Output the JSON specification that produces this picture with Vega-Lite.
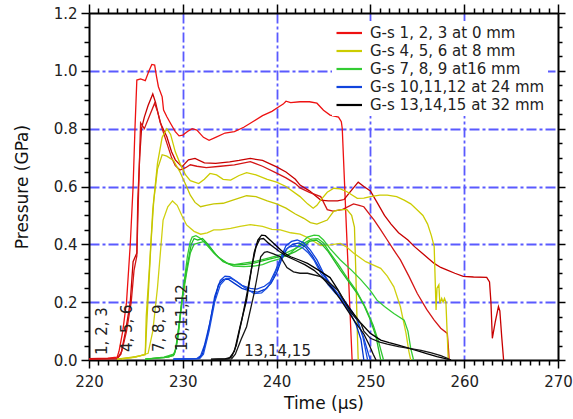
{
  "$schema": "https://vega.github.io/schema/vega-lite/v6.json",
  "width": 469,
  "height": 347,
  "autosize": {"type": "none"},
  "padding": {"left": 89, "top": 13, "right": 15, "bottom": 59},
  "background": "white",
  "config": {"font": "DejaVu Sans", "view": {"stroke": null}},
  "datasets": {
    "curves": [
      {"s":"G-s 1, 2, 3 at 0 mm","t":220,"p":0.005},{"s":"G-s 1, 2, 3 at 0 mm","t":222,"p":0.006},{"s":"G-s 1, 2, 3 at 0 mm","t":223,"p":0.01},{"s":"G-s 1, 2, 3 at 0 mm","t":223.2,"p":0.03},{"s":"G-s 1, 2, 3 at 0 mm","t":223.6,"p":0.1},{"s":"G-s 1, 2, 3 at 0 mm","t":224.0,"p":0.2},{"s":"G-s 1, 2, 3 at 0 mm","t":224.4,"p":0.4},{"s":"G-s 1, 2, 3 at 0 mm","t":224.7,"p":0.6},{"s":"G-s 1, 2, 3 at 0 mm","t":224.9,"p":0.8},{"s":"G-s 1, 2, 3 at 0 mm","t":225.1,"p":0.968},{"s":"G-s 1, 2, 3 at 0 mm","t":225.5,"p":0.972},{"s":"G-s 1, 2, 3 at 0 mm","t":226.0,"p":0.966},{"s":"G-s 1, 2, 3 at 0 mm","t":226.4,"p":1.0},{"s":"G-s 1, 2, 3 at 0 mm","t":226.7,"p":1.022},{"s":"G-s 1, 2, 3 at 0 mm","t":227.0,"p":1.02},{"s":"G-s 1, 2, 3 at 0 mm","t":227.2,"p":0.98},{"s":"G-s 1, 2, 3 at 0 mm","t":227.4,"p":0.945},{"s":"G-s 1, 2, 3 at 0 mm","t":227.8,"p":0.91},{"s":"G-s 1, 2, 3 at 0 mm","t":227.95,"p":0.864},{"s":"G-s 1, 2, 3 at 0 mm","t":228.3,"p":0.841},{"s":"G-s 1, 2, 3 at 0 mm","t":228.7,"p":0.818},{"s":"G-s 1, 2, 3 at 0 mm","t":229.2,"p":0.79},{"s":"G-s 1, 2, 3 at 0 mm","t":229.6,"p":0.775},{"s":"G-s 1, 2, 3 at 0 mm","t":230.0,"p":0.778},{"s":"G-s 1, 2, 3 at 0 mm","t":230.5,"p":0.79},{"s":"G-s 1, 2, 3 at 0 mm","t":231.0,"p":0.8},{"s":"G-s 1, 2, 3 at 0 mm","t":231.5,"p":0.795},{"s":"G-s 1, 2, 3 at 0 mm","t":232.2,"p":0.77},{"s":"G-s 1, 2, 3 at 0 mm","t":232.8,"p":0.76},{"s":"G-s 1, 2, 3 at 0 mm","t":233.5,"p":0.77},{"s":"G-s 1, 2, 3 at 0 mm","t":234.5,"p":0.785},{"s":"G-s 1, 2, 3 at 0 mm","t":235.5,"p":0.79},{"s":"G-s 1, 2, 3 at 0 mm","t":236.5,"p":0.805},{"s":"G-s 1, 2, 3 at 0 mm","t":237.5,"p":0.825},{"s":"G-s 1, 2, 3 at 0 mm","t":238.5,"p":0.845},{"s":"G-s 1, 2, 3 at 0 mm","t":239.5,"p":0.86},{"s":"G-s 1, 2, 3 at 0 mm","t":240.2,"p":0.875},{"s":"G-s 1, 2, 3 at 0 mm","t":240.7,"p":0.885},{"s":"G-s 1, 2, 3 at 0 mm","t":241.0,"p":0.895},{"s":"G-s 1, 2, 3 at 0 mm","t":241.5,"p":0.89},{"s":"G-s 1, 2, 3 at 0 mm","t":242.5,"p":0.893},{"s":"G-s 1, 2, 3 at 0 mm","t":243.5,"p":0.893},{"s":"G-s 1, 2, 3 at 0 mm","t":244.3,"p":0.888},{"s":"G-s 1, 2, 3 at 0 mm","t":245.0,"p":0.864},{"s":"G-s 1, 2, 3 at 0 mm","t":245.7,"p":0.847},{"s":"G-s 1, 2, 3 at 0 mm","t":246.6,"p":0.84},{"s":"G-s 1, 2, 3 at 0 mm","t":246.9,"p":0.824},{"s":"G-s 1, 2, 3 at 0 mm","t":247.0,"p":0.8},{"s":"G-s 1, 2, 3 at 0 mm","t":247.45,"p":0.45},{"s":"G-s 1, 2, 3 at 0 mm","t":248.05,"p":0},

      {"s":"r2","t":220,"p":0.003},{"s":"r2","t":223,"p":0.005},{"s":"r2","t":223.4,"p":0.02},{"s":"r2","t":223.9,"p":0.1},{"s":"r2","t":224.4,"p":0.2},{"s":"r2","t":224.7,"p":0.34},{"s":"r2","t":225.1,"p":0.37},{"s":"r2","t":225.2,"p":0.55},{"s":"r2","t":225.4,"p":0.7},{"s":"r2","t":225.6,"p":0.8},{"s":"r2","t":225.9,"p":0.84},{"s":"r2","t":226.3,"p":0.88},{"s":"r2","t":226.8,"p":0.92},{"s":"r2","t":227.1,"p":0.89},{"s":"r2","t":227.6,"p":0.82},{"s":"r2","t":228.3,"p":0.772},{"s":"r2","t":228.8,"p":0.72},{"s":"r2","t":229.2,"p":0.692},{"s":"r2","t":229.9,"p":0.668},{"s":"r2","t":230.6,"p":0.692},{"s":"r2","t":231.3,"p":0.697},{"s":"r2","t":232.3,"p":0.682},{"s":"r2","t":233.5,"p":0.68},{"s":"r2","t":235,"p":0.685},{"s":"r2","t":236,"p":0.69},{"s":"r2","t":237.2,"p":0.697},{"s":"r2","t":238.5,"p":0.69},{"s":"r2","t":240,"p":0.668},{"s":"r2","t":241,"p":0.65},{"s":"r2","t":242,"p":0.625},{"s":"r2","t":242.5,"p":0.605},{"s":"r2","t":243.5,"p":0.585},{"s":"r2","t":244.7,"p":0.553},{"s":"r2","t":245.5,"p":0.55},{"s":"r2","t":246.5,"p":0.55},{"s":"r2","t":247.2,"p":0.555},{"s":"r2","t":247.8,"p":0.58},{"s":"r2","t":248.7,"p":0.615},{"s":"r2","t":249.3,"p":0.6},{"s":"r2","t":250,"p":0.585},{"s":"r2","t":250.8,"p":0.54},{"s":"r2","t":251.5,"p":0.5},{"s":"r2","t":252.2,"p":0.47},{"s":"r2","t":253,"p":0.44},{"s":"r2","t":254,"p":0.415},{"s":"r2","t":254.7,"p":0.392},{"s":"r2","t":255.5,"p":0.37},{"s":"r2","t":256.8,"p":0.334},{"s":"r2","t":257.5,"p":0.32},{"s":"r2","t":258.2,"p":0.311},{"s":"r2","t":259,"p":0.3},{"s":"r2","t":259.9,"p":0.289},{"s":"r2","t":261,"p":0.287},{"s":"r2","t":262.4,"p":0.286},{"s":"r2","t":262.7,"p":0.27},{"s":"r2","t":262.85,"p":0.2},{"s":"r2","t":263.0,"p":0.075},{"s":"r2","t":263.3,"p":0.13},{"s":"r2","t":263.65,"p":0.185},{"s":"r2","t":263.8,"p":0.17},{"s":"r2","t":264.0,"p":0.08},{"s":"r2","t":264.2,"p":0},

      {"s":"r3","t":220,"p":0.003},{"s":"r3","t":223,"p":0.005},{"s":"r3","t":223.5,"p":0.03},{"s":"r3","t":224.0,"p":0.1},{"s":"r3","t":224.5,"p":0.2},{"s":"r3","t":224.8,"p":0.31},{"s":"r3","t":225.1,"p":0.36},{"s":"r3","t":225.3,"p":0.6},{"s":"r3","t":225.5,"p":0.82},{"s":"r3","t":225.9,"p":0.8},{"s":"r3","t":226.4,"p":0.84},{"s":"r3","t":227.0,"p":0.888},{"s":"r3","t":227.3,"p":0.86},{"s":"r3","t":227.8,"p":0.8},{"s":"r3","t":228.3,"p":0.75},{"s":"r3","t":228.8,"p":0.7},{"s":"r3","t":229.2,"p":0.672},{"s":"r3","t":229.7,"p":0.657},{"s":"r3","t":230.3,"p":0.665},{"s":"r3","t":230.8,"p":0.675},{"s":"r3","t":231.5,"p":0.67},{"s":"r3","t":232.5,"p":0.665},{"s":"r3","t":234,"p":0.67},{"s":"r3","t":235.5,"p":0.675},{"s":"r3","t":237.2,"p":0.686},{"s":"r3","t":238.5,"p":0.67},{"s":"r3","t":240,"p":0.646},{"s":"r3","t":241,"p":0.63},{"s":"r3","t":242,"p":0.61},{"s":"r3","t":242.5,"p":0.595},{"s":"r3","t":243.5,"p":0.58},{"s":"r3","t":244.7,"p":0.565},{"s":"r3","t":245.4,"p":0.52},{"s":"r3","t":246.0,"p":0.515},{"s":"r3","t":247.0,"p":0.52},{"s":"r3","t":248.2,"p":0.54},{"s":"r3","t":248.8,"p":0.535},{"s":"r3","t":249.3,"p":0.53},{"s":"r3","t":250.0,"p":0.5},{"s":"r3","t":250.4,"p":0.484},{"s":"r3","t":251.1,"p":0.45},{"s":"r3","t":251.8,"p":0.415},{"s":"r3","t":252.5,"p":0.38},{"s":"r3","t":253.2,"p":0.346},{"s":"r3","t":254.1,"p":0.29},{"s":"r3","t":255.0,"p":0.23},{"s":"r3","t":256.0,"p":0.175},{"s":"r3","t":256.8,"p":0.138},{"s":"r3","t":257.5,"p":0.11},{"s":"r3","t":258.2,"p":0.092},{"s":"r3","t":258.3,"p":0.05},{"s":"r3","t":258.4,"p":0},

      {"s":"G-s 4, 5, 6 at 8 mm","t":223,"p":0.003},{"s":"G-s 4, 5, 6 at 8 mm","t":224.5,"p":0.008},{"s":"G-s 4, 5, 6 at 8 mm","t":225.5,"p":0.015},{"s":"G-s 4, 5, 6 at 8 mm","t":226.0,"p":0.02},{"s":"G-s 4, 5, 6 at 8 mm","t":226.1,"p":0.15},{"s":"G-s 4, 5, 6 at 8 mm","t":226.5,"p":0.35},{"s":"G-s 4, 5, 6 at 8 mm","t":226.8,"p":0.52},{"s":"G-s 4, 5, 6 at 8 mm","t":227.3,"p":0.68},{"s":"G-s 4, 5, 6 at 8 mm","t":227.8,"p":0.77},{"s":"G-s 4, 5, 6 at 8 mm","t":228.3,"p":0.8},{"s":"G-s 4, 5, 6 at 8 mm","t":228.7,"p":0.78},{"s":"G-s 4, 5, 6 at 8 mm","t":229.2,"p":0.72},{"s":"G-s 4, 5, 6 at 8 mm","t":229.7,"p":0.68},{"s":"G-s 4, 5, 6 at 8 mm","t":230.3,"p":0.64},{"s":"G-s 4, 5, 6 at 8 mm","t":230.8,"p":0.62},{"s":"G-s 4, 5, 6 at 8 mm","t":231.7,"p":0.61},{"s":"G-s 4, 5, 6 at 8 mm","t":232.3,"p":0.625},{"s":"G-s 4, 5, 6 at 8 mm","t":232.9,"p":0.645},{"s":"G-s 4, 5, 6 at 8 mm","t":233.6,"p":0.64},{"s":"G-s 4, 5, 6 at 8 mm","t":234.3,"p":0.625},{"s":"G-s 4, 5, 6 at 8 mm","t":235.1,"p":0.622},{"s":"G-s 4, 5, 6 at 8 mm","t":236,"p":0.638},{"s":"G-s 4, 5, 6 at 8 mm","t":236.8,"p":0.648},{"s":"G-s 4, 5, 6 at 8 mm","t":237.8,"p":0.64},{"s":"G-s 4, 5, 6 at 8 mm","t":239,"p":0.625},{"s":"G-s 4, 5, 6 at 8 mm","t":240,"p":0.615},{"s":"G-s 4, 5, 6 at 8 mm","t":241,"p":0.6},{"s":"G-s 4, 5, 6 at 8 mm","t":242.5,"p":0.565},{"s":"G-s 4, 5, 6 at 8 mm","t":243.3,"p":0.54},{"s":"G-s 4, 5, 6 at 8 mm","t":243.9,"p":0.525},{"s":"G-s 4, 5, 6 at 8 mm","t":244.3,"p":0.535},{"s":"G-s 4, 5, 6 at 8 mm","t":244.7,"p":0.553},{"s":"G-s 4, 5, 6 at 8 mm","t":245.4,"p":0.58},{"s":"G-s 4, 5, 6 at 8 mm","t":246.1,"p":0.594},{"s":"G-s 4, 5, 6 at 8 mm","t":246.8,"p":0.592},{"s":"G-s 4, 5, 6 at 8 mm","t":247.5,"p":0.582},{"s":"G-s 4, 5, 6 at 8 mm","t":248.6,"p":0.559},{"s":"G-s 4, 5, 6 at 8 mm","t":249.3,"p":0.56},{"s":"G-s 4, 5, 6 at 8 mm","t":250,"p":0.565},{"s":"G-s 4, 5, 6 at 8 mm","t":251,"p":0.57},{"s":"G-s 4, 5, 6 at 8 mm","t":251.8,"p":0.57},{"s":"G-s 4, 5, 6 at 8 mm","t":252.8,"p":0.565},{"s":"G-s 4, 5, 6 at 8 mm","t":253.6,"p":0.553},{"s":"G-s 4, 5, 6 at 8 mm","t":254.3,"p":0.54},{"s":"G-s 4, 5, 6 at 8 mm","t":255,"p":0.519},{"s":"G-s 4, 5, 6 at 8 mm","t":255.6,"p":0.5},{"s":"G-s 4, 5, 6 at 8 mm","t":256.1,"p":0.47},{"s":"G-s 4, 5, 6 at 8 mm","t":256.5,"p":0.43},{"s":"G-s 4, 5, 6 at 8 mm","t":256.8,"p":0.392},{"s":"G-s 4, 5, 6 at 8 mm","t":257.0,"p":0.173},{"s":"G-s 4, 5, 6 at 8 mm","t":257.1,"p":0.248},{"s":"G-s 4, 5, 6 at 8 mm","t":257.3,"p":0.26},{"s":"G-s 4, 5, 6 at 8 mm","t":257.4,"p":0.196},{"s":"G-s 4, 5, 6 at 8 mm","t":257.6,"p":0.213},{"s":"G-s 4, 5, 6 at 8 mm","t":257.75,"p":0.2},{"s":"G-s 4, 5, 6 at 8 mm","t":257.9,"p":0.213},{"s":"G-s 4, 5, 6 at 8 mm","t":258.05,"p":0.2},{"s":"G-s 4, 5, 6 at 8 mm","t":258.3,"p":0},

      {"s":"y2","t":223,"p":0.003},{"s":"y2","t":225,"p":0.012},{"s":"y2","t":226.0,"p":0.018},{"s":"y2","t":226.15,"p":0.12},{"s":"y2","t":226.6,"p":0.4},{"s":"y2","t":226.9,"p":0.55},{"s":"y2","t":227.3,"p":0.66},{"s":"y2","t":227.8,"p":0.71},{"s":"y2","t":228.3,"p":0.705},{"s":"y2","t":229.0,"p":0.69},{"s":"y2","t":229.7,"p":0.65},{"s":"y2","t":230.4,"p":0.6},{"s":"y2","t":230.8,"p":0.57},{"s":"y2","t":231.3,"p":0.545},{"s":"y2","t":231.9,"p":0.53},{"s":"y2","t":232.5,"p":0.535},{"s":"y2","t":233.3,"p":0.54},{"s":"y2","t":234.3,"p":0.542},{"s":"y2","t":235.5,"p":0.555},{"s":"y2","t":236.8,"p":0.568},{"s":"y2","t":237.8,"p":0.565},{"s":"y2","t":239,"p":0.55},{"s":"y2","t":240,"p":0.54},{"s":"y2","t":241,"p":0.525},{"s":"y2","t":242,"p":0.505},{"s":"y2","t":242.9,"p":0.49},{"s":"y2","t":243.6,"p":0.475},{"s":"y2","t":244.3,"p":0.47},{"s":"y2","t":245.4,"p":0.484},{"s":"y2","t":246.1,"p":0.515},{"s":"y2","t":246.8,"p":0.52},{"s":"y2","t":247.5,"p":0.52},{"s":"y2","t":248.0,"p":0.5},{"s":"y2","t":248.3,"p":0.46},{"s":"y2","t":248.45,"p":0.3},{"s":"y2","t":248.6,"p":0.1},{"s":"y2","t":248.7,"p":0},

      {"s":"y3","t":223.5,"p":0.003},{"s":"y3","t":225,"p":0.01},{"s":"y3","t":226.3,"p":0.023},{"s":"y3","t":226.8,"p":0.1},{"s":"y3","t":227.3,"p":0.25},{"s":"y3","t":227.9,"p":0.484},{"s":"y3","t":228.4,"p":0.53},{"s":"y3","t":228.9,"p":0.55},{"s":"y3","t":229.4,"p":0.535},{"s":"y3","t":229.9,"p":0.5},{"s":"y3","t":230.4,"p":0.467},{"s":"y3","t":231.2,"p":0.445},{"s":"y3","t":231.9,"p":0.435},{"s":"y3","t":232.6,"p":0.44},{"s":"y3","t":233.3,"p":0.45},{"s":"y3","t":234,"p":0.45},{"s":"y3","t":235.1,"p":0.455},{"s":"y3","t":236.1,"p":0.462},{"s":"y3","t":237.2,"p":0.468},{"s":"y3","t":238.5,"p":0.462},{"s":"y3","t":239.5,"p":0.452},{"s":"y3","t":240.4,"p":0.45},{"s":"y3","t":241.5,"p":0.44},{"s":"y3","t":242.5,"p":0.435},{"s":"y3","t":243.2,"p":0.425},{"s":"y3","t":244,"p":0.41},{"s":"y3","t":244.7,"p":0.396},{"s":"y3","t":245.7,"p":0.398},{"s":"y3","t":246.8,"p":0.403},{"s":"y3","t":247.5,"p":0.39},{"s":"y3","t":248.2,"p":0.37},{"s":"y3","t":249.5,"p":0.34},{"s":"y3","t":251.1,"p":0.317},{"s":"y3","t":251.8,"p":0.29},{"s":"y3","t":252.5,"p":0.253},{"s":"y3","t":253.2,"p":0.184},{"s":"y3","t":253.8,"p":0.092},{"s":"y3","t":254.1,"p":0.03},{"s":"y3","t":254.3,"p":0},

      {"s":"G-s 7, 8, 9 at16 mm","t":226,"p":0.003},{"s":"G-s 7, 8, 9 at16 mm","t":228,"p":0.01},{"s":"G-s 7, 8, 9 at16 mm","t":229.0,"p":0.02},{"s":"G-s 7, 8, 9 at16 mm","t":229.3,"p":0.04},{"s":"G-s 7, 8, 9 at16 mm","t":229.7,"p":0.15},{"s":"G-s 7, 8, 9 at16 mm","t":230.1,"p":0.26},{"s":"G-s 7, 8, 9 at16 mm","t":230.5,"p":0.36},{"s":"G-s 7, 8, 9 at16 mm","t":230.8,"p":0.41},{"s":"G-s 7, 8, 9 at16 mm","t":231.0,"p":0.425},{"s":"G-s 7, 8, 9 at16 mm","t":231.4,"p":0.43},{"s":"G-s 7, 8, 9 at16 mm","t":231.9,"p":0.42},{"s":"G-s 7, 8, 9 at16 mm","t":232.5,"p":0.4},{"s":"G-s 7, 8, 9 at16 mm","t":233.3,"p":0.37},{"s":"G-s 7, 8, 9 at16 mm","t":234.0,"p":0.35},{"s":"G-s 7, 8, 9 at16 mm","t":234.7,"p":0.335},{"s":"G-s 7, 8, 9 at16 mm","t":235.4,"p":0.325},{"s":"G-s 7, 8, 9 at16 mm","t":236.5,"p":0.323},{"s":"G-s 7, 8, 9 at16 mm","t":237.6,"p":0.325},{"s":"G-s 7, 8, 9 at16 mm","t":238.5,"p":0.33},{"s":"G-s 7, 8, 9 at16 mm","t":239.3,"p":0.34},{"s":"G-s 7, 8, 9 at16 mm","t":240.3,"p":0.35},{"s":"G-s 7, 8, 9 at16 mm","t":241.5,"p":0.37},{"s":"G-s 7, 8, 9 at16 mm","t":242.5,"p":0.4},{"s":"G-s 7, 8, 9 at16 mm","t":243.3,"p":0.425},{"s":"G-s 7, 8, 9 at16 mm","t":244.0,"p":0.432},{"s":"G-s 7, 8, 9 at16 mm","t":244.5,"p":0.43},{"s":"G-s 7, 8, 9 at16 mm","t":245.0,"p":0.415},{"s":"G-s 7, 8, 9 at16 mm","t":245.7,"p":0.385},{"s":"G-s 7, 8, 9 at16 mm","t":246.8,"p":0.346},{"s":"G-s 7, 8, 9 at16 mm","t":248,"p":0.31},{"s":"G-s 7, 8, 9 at16 mm","t":249,"p":0.277},{"s":"G-s 7, 8, 9 at16 mm","t":250,"p":0.24},{"s":"G-s 7, 8, 9 at16 mm","t":250.7,"p":0.207},{"s":"G-s 7, 8, 9 at16 mm","t":251.5,"p":0.185},{"s":"G-s 7, 8, 9 at16 mm","t":252.5,"p":0.161},{"s":"G-s 7, 8, 9 at16 mm","t":253.6,"p":0.138},{"s":"G-s 7, 8, 9 at16 mm","t":254.0,"p":0.1},{"s":"G-s 7, 8, 9 at16 mm","t":254.3,"p":0.04},{"s":"G-s 7, 8, 9 at16 mm","t":254.6,"p":0},

      {"s":"g2","t":226,"p":0.003},{"s":"g2","t":228,"p":0.008},{"s":"g2","t":229.0,"p":0.015},{"s":"g2","t":229.2,"p":0.03},{"s":"g2","t":229.6,"p":0.12},{"s":"g2","t":230.0,"p":0.23},{"s":"g2","t":230.5,"p":0.33},{"s":"g2","t":230.9,"p":0.4},{"s":"g2","t":231.2,"p":0.42},{"s":"g2","t":231.6,"p":0.415},{"s":"g2","t":232.1,"p":0.42},{"s":"g2","t":232.7,"p":0.4},{"s":"g2","t":233.5,"p":0.365},{"s":"g2","t":234.3,"p":0.34},{"s":"g2","t":235.1,"p":0.33},{"s":"g2","t":236.5,"p":0.33},{"s":"g2","t":237.6,"p":0.335},{"s":"g2","t":238.8,"p":0.345},{"s":"g2","t":240,"p":0.355},{"s":"g2","t":241,"p":0.36},{"s":"g2","t":242,"p":0.375},{"s":"g2","t":242.8,"p":0.39},{"s":"g2","t":243.5,"p":0.41},{"s":"g2","t":244.2,"p":0.415},{"s":"g2","t":244.7,"p":0.405},{"s":"g2","t":245.5,"p":0.375},{"s":"g2","t":246.8,"p":0.311},{"s":"g2","t":247.7,"p":0.27},{"s":"g2","t":248.6,"p":0.23},{"s":"g2","t":249.3,"p":0.19},{"s":"g2","t":250,"p":0.138},{"s":"g2","t":250.6,"p":0.081},{"s":"g2","t":251.1,"p":0},

      {"s":"g3","t":226,"p":0.003},{"s":"g3","t":228.5,"p":0.01},{"s":"g3","t":229.1,"p":0.02},{"s":"g3","t":229.5,"p":0.08},{"s":"g3","t":229.9,"p":0.2},{"s":"g3","t":230.4,"p":0.3},{"s":"g3","t":230.8,"p":0.37},{"s":"g3","t":231.2,"p":0.4},{"s":"g3","t":231.7,"p":0.405},{"s":"g3","t":232.3,"p":0.41},{"s":"g3","t":233,"p":0.385},{"s":"g3","t":233.8,"p":0.355},{"s":"g3","t":234.7,"p":0.335},{"s":"g3","t":235.5,"p":0.33},{"s":"g3","t":236.5,"p":0.335},{"s":"g3","t":237.6,"p":0.34},{"s":"g3","t":238.8,"p":0.35},{"s":"g3","t":240,"p":0.36},{"s":"g3","t":241,"p":0.37},{"s":"g3","t":242,"p":0.385},{"s":"g3","t":243,"p":0.405},{"s":"g3","t":243.7,"p":0.418},{"s":"g3","t":244.4,"p":0.42},{"s":"g3","t":245,"p":0.405},{"s":"g3","t":245.7,"p":0.37},{"s":"g3","t":246.6,"p":0.33},{"s":"g3","t":247.5,"p":0.285},{"s":"g3","t":248.5,"p":0.24},{"s":"g3","t":249.5,"p":0.18},{"s":"g3","t":250.3,"p":0.12},{"s":"g3","t":250.9,"p":0.06},{"s":"g3","t":251.4,"p":0},

      {"s":"G-s 10,11,12 at 24 mm","t":229,"p":0.003},{"s":"G-s 10,11,12 at 24 mm","t":231.5,"p":0.005},{"s":"G-s 10,11,12 at 24 mm","t":231.9,"p":0.015},{"s":"G-s 10,11,12 at 24 mm","t":232.3,"p":0.05},{"s":"G-s 10,11,12 at 24 mm","t":232.9,"p":0.13},{"s":"G-s 10,11,12 at 24 mm","t":233.4,"p":0.22},{"s":"G-s 10,11,12 at 24 mm","t":234.0,"p":0.275},{"s":"G-s 10,11,12 at 24 mm","t":234.5,"p":0.29},{"s":"G-s 10,11,12 at 24 mm","t":235.0,"p":0.288},{"s":"G-s 10,11,12 at 24 mm","t":235.6,"p":0.275},{"s":"G-s 10,11,12 at 24 mm","t":236.3,"p":0.258},{"s":"G-s 10,11,12 at 24 mm","t":237.2,"p":0.248},{"s":"G-s 10,11,12 at 24 mm","t":237.9,"p":0.245},{"s":"G-s 10,11,12 at 24 mm","t":238.7,"p":0.255},{"s":"G-s 10,11,12 at 24 mm","t":239.3,"p":0.27},{"s":"G-s 10,11,12 at 24 mm","t":239.9,"p":0.31},{"s":"G-s 10,11,12 at 24 mm","t":240.4,"p":0.35},{"s":"G-s 10,11,12 at 24 mm","t":241.0,"p":0.395},{"s":"G-s 10,11,12 at 24 mm","t":241.6,"p":0.41},{"s":"G-s 10,11,12 at 24 mm","t":242.2,"p":0.415},{"s":"G-s 10,11,12 at 24 mm","t":242.9,"p":0.405},{"s":"G-s 10,11,12 at 24 mm","t":243.6,"p":0.38},{"s":"G-s 10,11,12 at 24 mm","t":244.3,"p":0.346},{"s":"G-s 10,11,12 at 24 mm","t":245.0,"p":0.3},{"s":"G-s 10,11,12 at 24 mm","t":245.7,"p":0.265},{"s":"G-s 10,11,12 at 24 mm","t":246.5,"p":0.23},{"s":"G-s 10,11,12 at 24 mm","t":247.2,"p":0.207},{"s":"G-s 10,11,12 at 24 mm","t":248.0,"p":0.17},{"s":"G-s 10,11,12 at 24 mm","t":248.6,"p":0.138},{"s":"G-s 10,11,12 at 24 mm","t":249.3,"p":0.075},{"s":"G-s 10,11,12 at 24 mm","t":249.8,"p":0.02},{"s":"G-s 10,11,12 at 24 mm","t":250.0,"p":0},

      {"s":"b2","t":229,"p":0.003},{"s":"b2","t":231.7,"p":0.005},{"s":"b2","t":232.1,"p":0.02},{"s":"b2","t":232.6,"p":0.08},{"s":"b2","t":233.2,"p":0.18},{"s":"b2","t":233.8,"p":0.26},{"s":"b2","t":234.3,"p":0.278},{"s":"b2","t":234.8,"p":0.28},{"s":"b2","t":235.5,"p":0.265},{"s":"b2","t":236.3,"p":0.248},{"s":"b2","t":237.2,"p":0.238},{"s":"b2","t":238,"p":0.235},{"s":"b2","t":238.8,"p":0.245},{"s":"b2","t":239.4,"p":0.265},{"s":"b2","t":240,"p":0.3},{"s":"b2","t":240.5,"p":0.345},{"s":"b2","t":241.1,"p":0.385},{"s":"b2","t":241.7,"p":0.4},{"s":"b2","t":242.4,"p":0.405},{"s":"b2","t":243.1,"p":0.39},{"s":"b2","t":243.8,"p":0.36},{"s":"b2","t":244.7,"p":0.31},{"s":"b2","t":245.7,"p":0.26},{"s":"b2","t":246.5,"p":0.225},{"s":"b2","t":247.2,"p":0.195},{"s":"b2","t":247.9,"p":0.16},{"s":"b2","t":248.5,"p":0.12},{"s":"b2","t":249.0,"p":0.07},{"s":"b2","t":249.3,"p":0},

      {"s":"b3","t":229,"p":0.003},{"s":"b3","t":231.8,"p":0.005},{"s":"b3","t":232.2,"p":0.02},{"s":"b3","t":232.8,"p":0.1},{"s":"b3","t":233.4,"p":0.2},{"s":"b3","t":234.0,"p":0.26},{"s":"b3","t":234.6,"p":0.282},{"s":"b3","t":235.1,"p":0.283},{"s":"b3","t":235.8,"p":0.27},{"s":"b3","t":236.5,"p":0.253},{"s":"b3","t":237.6,"p":0.23},{"s":"b3","t":238.4,"p":0.232},{"s":"b3","t":239,"p":0.25},{"s":"b3","t":239.6,"p":0.28},{"s":"b3","t":240.2,"p":0.33},{"s":"b3","t":240.8,"p":0.375},{"s":"b3","t":241.3,"p":0.39},{"s":"b3","t":242.0,"p":0.395},{"s":"b3","t":242.7,"p":0.39},{"s":"b3","t":243.4,"p":0.37},{"s":"b3","t":244.0,"p":0.345},{"s":"b3","t":244.7,"p":0.3},{"s":"b3","t":245.5,"p":0.26},{"s":"b3","t":246.3,"p":0.23},{"s":"b3","t":246.8,"p":0.219},{"s":"b3","t":247.6,"p":0.18},{"s":"b3","t":248.6,"p":0.138},{"s":"b3","t":249.2,"p":0.08},{"s":"b3","t":249.7,"p":0},

      {"s":"G-s 13,14,15 at 32 mm","t":233,"p":0.002},{"s":"G-s 13,14,15 at 32 mm","t":234.5,"p":0.004},{"s":"G-s 13,14,15 at 32 mm","t":235.0,"p":0.008},{"s":"G-s 13,14,15 at 32 mm","t":235.5,"p":0.03},{"s":"G-s 13,14,15 at 32 mm","t":236.1,"p":0.115},{"s":"G-s 13,14,15 at 32 mm","t":236.8,"p":0.207},{"s":"G-s 13,14,15 at 32 mm","t":237.3,"p":0.31},{"s":"G-s 13,14,15 at 32 mm","t":237.6,"p":0.37},{"s":"G-s 13,14,15 at 32 mm","t":238.0,"p":0.415},{"s":"G-s 13,14,15 at 32 mm","t":238.4,"p":0.432},{"s":"G-s 13,14,15 at 32 mm","t":238.8,"p":0.43},{"s":"G-s 13,14,15 at 32 mm","t":239.3,"p":0.415},{"s":"G-s 13,14,15 at 32 mm","t":239.7,"p":0.403},{"s":"G-s 13,14,15 at 32 mm","t":240.3,"p":0.385},{"s":"G-s 13,14,15 at 32 mm","t":240.8,"p":0.37},{"s":"G-s 13,14,15 at 32 mm","t":241.5,"p":0.357},{"s":"G-s 13,14,15 at 32 mm","t":242.5,"p":0.345},{"s":"G-s 13,14,15 at 32 mm","t":243.3,"p":0.334},{"s":"G-s 13,14,15 at 32 mm","t":244.5,"p":0.31},{"s":"G-s 13,14,15 at 32 mm","t":245.7,"p":0.285},{"s":"G-s 13,14,15 at 32 mm","t":246.5,"p":0.245},{"s":"G-s 13,14,15 at 32 mm","t":247.3,"p":0.2},{"s":"G-s 13,14,15 at 32 mm","t":247.9,"p":0.173},{"s":"G-s 13,14,15 at 32 mm","t":249,"p":0.127},{"s":"G-s 13,14,15 at 32 mm","t":250,"p":0.092},{"s":"G-s 13,14,15 at 32 mm","t":251.1,"p":0.069},{"s":"G-s 13,14,15 at 32 mm","t":252,"p":0.06},{"s":"G-s 13,14,15 at 32 mm","t":252.9,"p":0.052},{"s":"G-s 13,14,15 at 32 mm","t":254.7,"p":0.035},{"s":"G-s 13,14,15 at 32 mm","t":256,"p":0.022},{"s":"G-s 13,14,15 at 32 mm","t":257.1,"p":0.012},{"s":"G-s 13,14,15 at 32 mm","t":258,"p":0.005},{"s":"G-s 13,14,15 at 32 mm","t":258.6,"p":0},

      {"s":"k2","t":233,"p":0.002},{"s":"k2","t":234.8,"p":0.004},{"s":"k2","t":235.2,"p":0.01},{"s":"k2","t":235.7,"p":0.05},{"s":"k2","t":236.3,"p":0.14},{"s":"k2","t":236.9,"p":0.24},{"s":"k2","t":237.4,"p":0.33},{"s":"k2","t":237.8,"p":0.39},{"s":"k2","t":238.2,"p":0.418},{"s":"k2","t":238.6,"p":0.42},{"s":"k2","t":239.1,"p":0.405},{"s":"k2","t":239.7,"p":0.39},{"s":"k2","t":240.3,"p":0.375},{"s":"k2","t":241,"p":0.36},{"s":"k2","t":242,"p":0.345},{"s":"k2","t":243,"p":0.33},{"s":"k2","t":244,"p":0.31},{"s":"k2","t":245,"p":0.28},{"s":"k2","t":246,"p":0.245},{"s":"k2","t":246.8,"p":0.21},{"s":"k2","t":247.6,"p":0.17},{"s":"k2","t":248.4,"p":0.13},{"s":"k2","t":249.3,"p":0.09},{"s":"k2","t":249.9,"p":0.05},{"s":"k2","t":250.3,"p":0.02},{"s":"k2","t":250.6,"p":0},

      {"s":"k3","t":233,"p":0.002},{"s":"k3","t":235.2,"p":0.004},{"s":"k3","t":235.6,"p":0.02},{"s":"k3","t":236.2,"p":0.07},{"s":"k3","t":236.8,"p":0.115},{"s":"k3","t":237.6,"p":0.23},{"s":"k3","t":238.0,"p":0.3},{"s":"k3","t":238.3,"p":0.357},{"s":"k3","t":238.7,"p":0.372},{"s":"k3","t":239.0,"p":0.375},{"s":"k3","t":239.6,"p":0.368},{"s":"k3","t":240.4,"p":0.357},{"s":"k3","t":241.1,"p":0.32},{"s":"k3","t":241.8,"p":0.305},{"s":"k3","t":242.5,"p":0.3},{"s":"k3","t":243.3,"p":0.3},{"s":"k3","t":244.7,"p":0.288},{"s":"k3","t":245.7,"p":0.265},{"s":"k3","t":246.5,"p":0.242},{"s":"k3","t":247.3,"p":0.2},{"s":"k3","t":247.9,"p":0.165},{"s":"k3","t":249,"p":0.125},{"s":"k3","t":249.3,"p":0.1},{"s":"k3","t":250,"p":0.075},{"s":"k3","t":251,"p":0.062},{"s":"k3","t":251.8,"p":0.055},{"s":"k3","t":253,"p":0.046},{"s":"k3","t":255.4,"p":0.033},{"s":"k3","t":256.5,"p":0.025},{"s":"k3","t":257.5,"p":0.015},{"s":"k3","t":258.2,"p":0.006},{"s":"k3","t":258.5,"p":0}
    ],
    "vlabels": [
      {"t": 221.9, "p": 0.10, "label": "1, 2, 3"},
      {"t": 224.6, "p": 0.11, "label": "4, 5, 6"},
      {"t": 227.95, "p": 0.11, "label": "7, 8, 9"},
      {"t": 230.45, "p": 0.147, "label": "10,11,12"}
    ],
    "hlabels": [
      {"t": 240.1, "p": 0.014, "label": "13,14,15"}
    ]
  },
  "layer": [
    {
      "data": {"name": "curves"},
      "mark": {"type": "line", "strokeWidth": 1.3, "clip": true},
      "encoding": {
        "x": {
          "field": "t", "type": "quantitative",
          "scale": {"domain": [220, 270], "nice": false, "zero": false},
          "axis": {
            "orient": "bottom",
            "values": [220,221,222,223,224,225,226,227,228,229,230,231,232,233,234,235,236,237,238,239,240,241,242,243,244,245,246,247,248,249,250,251,252,253,254,255,256,257,258,259,260,261,262,263,264,265,266,267,268,269,270],
            "labelExpr": "datum.value % 10 == 0 ? datum.label : ''",
            "format": "d",
            "labelOverlap": false, "labelFlush": false, "labelBound": false,
            "tickSize": {"condition": {"test": "datum.value % 10 == 0", "value": 8}, "value": 5},
            "tickColor": "black", "tickWidth": 1.5,
            "domain": true, "domainColor": "black", "domainWidth": 2,
            "grid": true, "gridColor": "#5a5aff", "gridWidth": 1.8, "gridDash": [10, 3, 3, 3],
            "gridOpacity": {"condition": {"test": "datum.value % 10 == 0 && datum.value > 220 && datum.value < 270", "value": 1}, "value": 0},
            "labelFontSize": 15, "labelColor": "#222", "labelPadding": 6,
            "title": "Time (µs)", "titleFontSize": 17, "titleFontWeight": "normal", "titleColor": "#111", "titlePadding": 6
          }
        },
        "y": {
          "field": "p", "type": "quantitative",
          "scale": {"domain": [0, 1.2], "nice": false},
          "axis": {
            "orient": "left",
            "values": [0,0.05,0.1,0.15,0.2,0.25,0.3,0.35,0.4,0.45,0.5,0.55,0.6,0.65,0.7,0.75,0.8,0.85,0.9,0.95,1,1.05,1.1,1.15,1.2],
            "labelExpr": "abs(datum.value*5 - round(datum.value*5)) < 0.001 ? format(datum.value, '.1f') : ''",
            "labelOverlap": false, "labelFlush": false, "labelBound": false,
            "tickSize": {"condition": {"test": "abs(datum.value*5 - round(datum.value*5)) < 0.001", "value": 8}, "value": 5},
            "tickColor": "black", "tickWidth": 1.5,
            "domain": true, "domainColor": "black", "domainWidth": 2,
            "grid": true, "gridColor": "#5a5aff", "gridWidth": 1.8, "gridDash": [10, 3, 3, 3],
            "gridOpacity": {"condition": {"test": "abs(datum.value*5 - round(datum.value*5)) < 0.001 && datum.value > 0.01 && datum.value < 1.19", "value": 1}, "value": 0},
            "labelFontSize": 15, "labelColor": "#222", "labelPadding": 4,
            "title": "Pressure (GPa)", "titleFontSize": 17, "titleFontWeight": "normal", "titleColor": "#111", "titlePadding": 22
          }
        },
        "color": {
          "field": "s", "type": "nominal",
          "scale": {
            "domain": ["G-s 1, 2, 3 at 0 mm","r2","r3","G-s 4, 5, 6 at 8 mm","y2","y3","G-s 7, 8, 9 at16 mm","g2","g3","G-s 10,11,12 at 24 mm","b2","b3","G-s 13,14,15 at 32 mm","k2","k3"],
            "range": ["#ee1111","#c80000","#d41515","#cccc00","#c6c600","#d0d010","#33cc33","#22bb22","#2ec42e","#1144dd","#0033cc","#1a4ee0","#000000","#0a0a0a","#151515"]
          },
          "legend": {
            "values": ["G-s 1, 2, 3 at 0 mm","G-s 4, 5, 6 at 8 mm","G-s 7, 8, 9 at16 mm","G-s 10,11,12 at 24 mm","G-s 13,14,15 at 32 mm"],
            "title": null,
            "orient": "none", "legendX": 243, "legendY": 8,
            "fillColor": "white", "padding": 3,
            "symbolType": "M-1,0H2.4", "symbolSize": 225, "symbolStrokeWidth": 2.2,
            "labelFontSize": 15, "labelColor": "#222", "labelLimit": 300, "labelOffset": 17,
            "rowPadding": 1
          }
        }
      }
    },
    {
      "data": {"name": "vlabels"},
      "mark": {"type": "text", "angle": 270, "align": "center", "baseline": "alphabetic", "fontSize": 15, "color": "#222"},
      "encoding": {
        "x": {"field": "t", "type": "quantitative", "scale": {"domain": [220, 270], "nice": false, "zero": false}, "axis": null},
        "y": {"field": "p", "type": "quantitative", "scale": {"domain": [0, 1.2], "nice": false}, "axis": null},
        "text": {"field": "label"}
      }
    },
    {
      "data": {"name": "hlabels"},
      "mark": {"type": "text", "align": "center", "baseline": "alphabetic", "fontSize": 15, "color": "#222"},
      "encoding": {
        "x": {
          "field": "t", "type": "quantitative", "scale": {"domain": [220, 270], "nice": false, "zero": false},
          "axis": {
            "orient": "top",
            "values": [220,221,222,223,224,225,226,227,228,229,230,231,232,233,234,235,236,237,238,239,240,241,242,243,244,245,246,247,248,249,250,251,252,253,254,255,256,257,258,259,260,261,262,263,264,265,266,267,268,269,270],
            "labels": false, "grid": false, "title": null,
            "tickSize": {"condition": {"test": "datum.value % 10 == 0", "value": 9}, "value": 5},
            "tickColor": "black", "tickWidth": 1.5,
            "domain": true, "domainColor": "black", "domainWidth": 2
          }
        },
        "y": {
          "field": "p", "type": "quantitative", "scale": {"domain": [0, 1.2], "nice": false},
          "axis": {
            "orient": "right",
            "values": [0,0.05,0.1,0.15,0.2,0.25,0.3,0.35,0.4,0.45,0.5,0.55,0.6,0.65,0.7,0.75,0.8,0.85,0.9,0.95,1,1.05,1.1,1.15,1.2],
            "labels": false, "grid": false, "title": null,
            "tickSize": {"condition": {"test": "abs(datum.value*5 - round(datum.value*5)) < 0.001", "value": 7}, "value": 4},
            "tickColor": "black", "tickWidth": 1.5,
            "domain": true, "domainColor": "black", "domainWidth": 2
          }
        },
        "text": {"field": "label"}
      }
    }
  ],
  "resolve": {"axis": {"x": "independent", "y": "independent"}}
}
